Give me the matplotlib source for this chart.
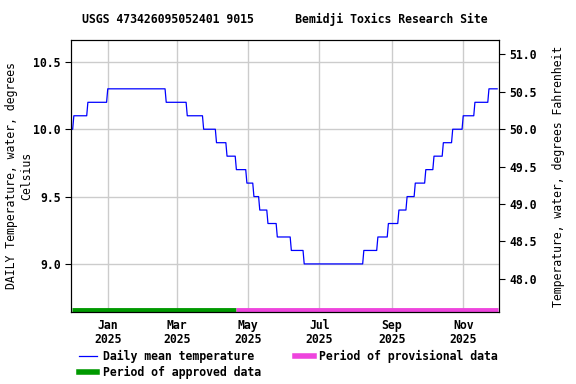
import numpy as np
import pandas as pd
import matplotlib
matplotlib.use("Agg")
import matplotlib.pyplot as plt
import matplotlib.dates as mdates
from matplotlib.lines import Line2D

# daily mean water temperature (deg C), read as step levels
change_dates = ["2024-12-01", "2024-12-03", "2024-12-15", "2025-01-01", "2025-02-20",
                "2025-03-10", "2025-03-24", "2025-04-04", "2025-04-13", "2025-04-21",
                "2025-04-30", "2025-05-06", "2025-05-11", "2025-05-18", "2025-05-26",
                "2025-06-07", "2025-06-18", "2025-08-08", "2025-08-20", "2025-08-29",
                "2025-09-07", "2025-09-14", "2025-09-21", "2025-09-30", "2025-10-07",
                "2025-10-15", "2025-10-23", "2025-11-01", "2025-11-11", "2025-11-23"]
levels = [10.0, 10.1, 10.2, 10.3, 10.2, 10.1, 10.0, 9.9, 9.8, 9.7,
          9.6, 9.5, 9.4, 9.3, 9.2, 9.1, 9.0, 9.1, 9.2, 9.3,
          9.4, 9.5, 9.6, 9.7, 9.8, 9.9, 10.0, 10.1, 10.2, 10.3]
last_date = "2025-11-30"

approved_start, approved_end = "2024-12-01", "2025-04-21"
provisional_start, provisional_end = "2025-04-21", "2025-12-01"

days = pd.date_range(change_dates[0], last_date, freq="D")
s = pd.Series(levels, index=pd.to_datetime(change_dates)).reindex(days, method="ffill")

plt.rcParams["font.family"] = "DejaVu Sans Mono"
plt.rcParams["font.weight"] = "bold"
plt.rcParams["font.size"] = 8.3

fig = plt.figure(figsize=(5.76, 3.84), dpi=100)
ax = fig.add_axes([0.1233, 0.1875, 0.7425, 0.7085])

ax.plot(s.index, s.values, color="#0000ff", lw=0.9)

ymin, ymax = 8.643, 10.663
ax.set_ylim(ymin, ymax)
ax.set_xlim(pd.Timestamp("2024-11-30 14:00"), pd.Timestamp("2025-12-01 08:00"))

bar_y = 8.657
ax.plot(pd.to_datetime([approved_start, approved_end]), [bar_y, bar_y],
        color="#009900", lw=3.5, solid_capstyle="butt")
ax.plot(pd.to_datetime([provisional_start, provisional_end]), [bar_y, bar_y],
        color="#ee44dd", lw=3.5, solid_capstyle="butt")

ax.set_yticks([9.0, 9.5, 10.0, 10.5])
ax.yaxis.set_major_formatter(matplotlib.ticker.FormatStrFormatter("%.1f"))
ax.xaxis.set_major_locator(mdates.MonthLocator(bymonth=[1, 3, 5, 7, 9, 11]))
ax.xaxis.set_major_formatter(mdates.DateFormatter("%b\n%Y"))
ax.grid(True, color="#cccccc", lw=1)
ax.set_axisbelow(True)
ax.tick_params(axis="x", length=0, pad=5)
ax.tick_params(axis="y", length=4)
for t in ax.get_xticklabels():
    t.set_linespacing(1.1)

ax.set_ylabel("DAILY Temperature, water, degrees\nCelsius", labelpad=0)

ax2 = ax.twinx()
ax2.set_ylim(ymin * 1.8 + 32, ymax * 1.8 + 32)
ax2.set_yticks([48.0, 48.5, 49.0, 49.5, 50.0, 50.5, 51.0])
ax2.yaxis.set_major_formatter(matplotlib.ticker.FormatStrFormatter("%.1f"))
ax2.tick_params(axis="y", length=4)
ax2.set_ylabel("Temperature, water, degrees Fahrenheit", labelpad=11)

fig.text(0.495, 0.95, "USGS 473426095052401 9015      Bemidji Toxics Research Site",
         ha="center", va="center")

handles = [Line2D([], [], color="#0000ff", lw=0.9),
           Line2D([], [], color="#009900", lw=4),
           Line2D([], [], color="#ee44dd", lw=4)]
labels = ["Daily mean temperature", "Period of approved data", "Period of provisional data"]
fig.legend(handles, labels, ncol=2, loc="upper left", bbox_to_anchor=(0.137, 0.088),
           frameon=False, handlelength=1.6, handletextpad=0.5, columnspacing=2.95,
           labelspacing=0.25, borderaxespad=0, borderpad=0)

fig.savefig("out.png", dpi=100)
